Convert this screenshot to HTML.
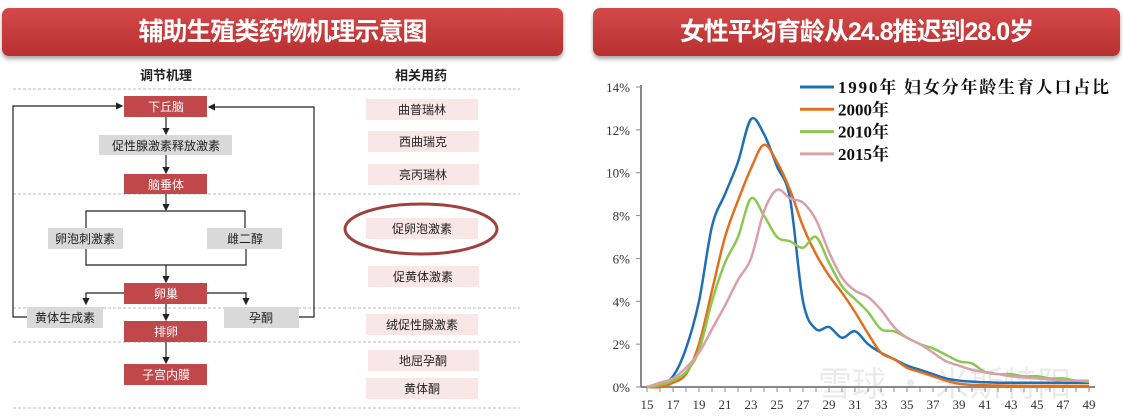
<!DOCTYPE html>
<html><head><meta charset="utf-8"><style>
body{margin:0;width:1123px;height:418px;background:#fff;overflow:hidden;position:relative;font-family:"Liberation Sans","Noto Sans CJK SC",sans-serif}
.hd{position:absolute;top:8px;height:48px;border-radius:7px;background:linear-gradient(#d44848,#b83030);box-shadow:0 3px 4px rgba(0,0,0,.35);color:#fff;font-weight:bold;font-size:25px;text-align:center;line-height:48px;letter-spacing:-1px}
</style></head><body>
<div class="hd" style="left:2px;width:561px">辅助生殖类药物机理示意图</div>
<div class="hd" style="left:593px;width:527px">女性平均育龄从24.8推迟到28.0岁</div>
<svg width="1123" height="418" style="position:absolute;left:0;top:0" font-family="Liberation Sans,Noto Sans CJK SC,sans-serif">
<defs><marker id="a" markerWidth="6" markerHeight="6" refX="5" refY="3" orient="auto"><path d="M0,0L6,3L0,6z" fill="#222"/></marker></defs>
<g font-size="13" font-weight="bold" fill="#222" text-anchor="middle"><text x="166" y="80">调节机理</text><text x="421" y="80">相关用药</text></g>
<g stroke="#bbb" stroke-dasharray="3,2" stroke-width="1"><line x1="13" y1="89" x2="520" y2="89"/><line x1="13" y1="194" x2="520" y2="194"/><line x1="13" y1="308" x2="520" y2="308"/><line x1="13" y1="342" x2="520" y2="342"/><line x1="13" y1="408" x2="520" y2="408"/></g>
<g stroke="#222" stroke-width="1.2" fill="none">
<line x1="166" y1="117" x2="166" y2="134" marker-end="url(#a)"/>
<line x1="166" y1="155" x2="166" y2="173" marker-end="url(#a)"/>
<line x1="166" y1="194" x2="166" y2="210" marker-end="url(#a)"/>
<polyline points="86,228 86,211 245,211 245,228"/>
<polyline points="86,249 86,265 246,265 246,249"/>
<line x1="166" y1="265" x2="166" y2="282" marker-end="url(#a)"/>
<polyline points="124,293 86,293 86,304" marker-end="url(#a)"/>
<polyline points="207,293 246,293 246,304" marker-end="url(#a)"/>
<line x1="166" y1="304" x2="166" y2="320" marker-end="url(#a)"/>
<line x1="166" y1="342" x2="166" y2="363" marker-end="url(#a)"/>
<polyline points="27,317 13,317 13,106 122,106" marker-end="url(#a)"/>
<polyline points="299,317 314,317 314,107 209,107" marker-end="url(#a)"/>
</g>
<g fill="#c0474a"><rect x="124" y="96" width="83" height="21"/><rect x="124" y="174" width="83" height="20"/><rect x="124" y="283" width="83" height="21"/><rect x="124" y="321" width="83" height="21"/><rect x="124" y="364" width="83" height="21"/></g>
<g fill="#d9d9d9"><rect x="99" y="135" width="133" height="20"/><rect x="48" y="228" width="75" height="21"/><rect x="207" y="228" width="75" height="21"/><rect x="27" y="307" width="76" height="21"/><rect x="224" y="307" width="75" height="21"/></g>
<g font-size="12" fill="#fff" text-anchor="middle"><text x="166" y="111">下丘脑</text><text x="166" y="189">脑垂体</text><text x="166" y="298">卵巢</text><text x="166" y="336">排卵</text><text x="166" y="379">子宫内膜</text></g>
<g font-size="12" fill="#222" text-anchor="middle"><text x="166" y="150">促性腺激素释放激素</text><text x="85" y="243">卵泡刺激素</text><text x="245" y="243">雌二醇</text><text x="65" y="322">黄体生成素</text><text x="261" y="322">孕酮</text></g>
<g fill="#f9e6e6"><rect x="366" y="99" width="112" height="21"/><rect x="368" y="131" width="111" height="21"/><rect x="368" y="164" width="111" height="21"/><rect x="366" y="218" width="112" height="21"/><rect x="368" y="266" width="111" height="21"/><rect x="366" y="314" width="112" height="21"/><rect x="368" y="350" width="111" height="21"/><rect x="366" y="378" width="112" height="21"/></g>
<g font-size="12" fill="#222" text-anchor="middle"><text x="422" y="114">曲普瑞林</text><text x="423" y="146">西曲瑞克</text><text x="423" y="179">亮丙瑞林</text><text x="422" y="233">促卵泡激素</text><text x="423" y="281">促黄体激素</text><text x="422" y="329">绒促性腺激素</text><text x="423" y="365">地屈孕酮</text><text x="422" y="393">黄体酮</text></g>
<ellipse cx="421" cy="229" rx="76" ry="25" fill="none" stroke="#a04040" stroke-width="3"/>
<text x="818" y="396" font-size="34" fill="#000" opacity="0.08" font-family="Noto Sans CJK SC,sans-serif">雪球 · 米斯特阳</text>
<g id="chart"></g>
</svg>
<script>
var g=document.getElementById('chart'),h='';
function X(a){return 647+(a-15)*13}function Y(v){return 387-v*21.43}
h+='<line x1="641" y1="85" x2="641" y2="387" stroke="#888" stroke-width="2"/><line x1="641" y1="387" x2="1095" y2="387" stroke="#888" stroke-width="2"/>';
for(var i=0;i<=7;i++){var y=Y(i*2);h+='<line x1="636" y1="'+y+'" x2="641" y2="'+y+'" stroke="#888"/><text x="630" y="'+(y+5)+'" text-anchor="end" font-family="Liberation Serif,serif" font-size="13" fill="#333">'+(i*2)+'%</text>';}
for(var a=15;a<=49;a++){h+='<line x1="'+X(a)+'" y1="387" x2="'+X(a)+'" y2="392" stroke="#888"/>';if(a%2)h+='<text x="'+X(a)+'" y="409" text-anchor="middle" font-family="Liberation Serif,serif" font-size="13" fill="#333">'+a+'</text>';}
var S=[['#1f6fb5',[0,.1,.5,1.8,4,7.5,9,10.5,12.5,11.8,10.3,8.8,4,2.7,2.8,2.3,2.6,2,1.6,1.3,1,.8,.6,.4,.3,.25,.22,.2,.2,.2,.2,.2,.2,.2,.2]],
['#e07020',[0,0,.2,.6,2,4.5,7,8.7,10.2,11.3,10.5,9.2,7.5,6.2,5.2,4.4,3.5,2.5,1.6,1.3,.9,.7,.5,.3,.15,.1,.08,.07,.06,.05,.05,.05,.05,.05,.05]],
['#8cc850',[0,.1,.3,.7,1.7,4,5.8,7,8.8,8,7,6.8,6.5,7,5.8,4.7,4.1,3.5,2.7,2.6,2.3,2,1.8,1.5,1.2,1.1,.7,.6,.6,.5,.5,.4,.4,.3,.25]],
['#d8a0a8',[0,.2,.4,.9,1.6,2.7,3.8,5,6,8.2,9.2,8.8,8.6,7.8,6.3,5.1,4.5,4.2,3.6,2.8,2.3,2,1.6,1.2,1,.8,.7,.6,.5,.45,.4,.35,.3,.3,.3]]];
S.forEach(function(s){var p=s[1].map(function(v,i){return[X(15+i),Y(v)]});var d='M'+p[0];for(var i=0;i<p.length-1;i++){var p0=p[i-1]||p[i],p1=p[i],p2=p[i+1],p3=p[i+2]||p2;d+='C'+(p1[0]+(p2[0]-p0[0])/6)+','+(p1[1]+(p2[1]-p0[1])/6)+' '+(p2[0]-(p3[0]-p1[0])/6)+','+(p2[1]-(p3[1]-p1[1])/6)+' '+p2;}h+='<path d="'+d+'" fill="none" stroke="'+s[0]+'" stroke-width="2.5"/>';});
var L=['1990年 妇女分年龄生育人口占比','2000年','2010年','2015年'];
S.forEach(function(s,i){var y=87+i*22.3;h+='<line x1="800" y1="'+y+'" x2="834" y2="'+y+'" stroke="'+s[0]+'" stroke-width="3"/><text x="838" y="'+(y+6)+'" font-family="Liberation Serif,Noto Serif CJK SC,serif" font-weight="bold" font-size="17" fill="#111"'+(i==0?' letter-spacing="1.8"':'')+'>'+L[i]+'</text>';});
g.innerHTML=h;
</script>
</body></html>
